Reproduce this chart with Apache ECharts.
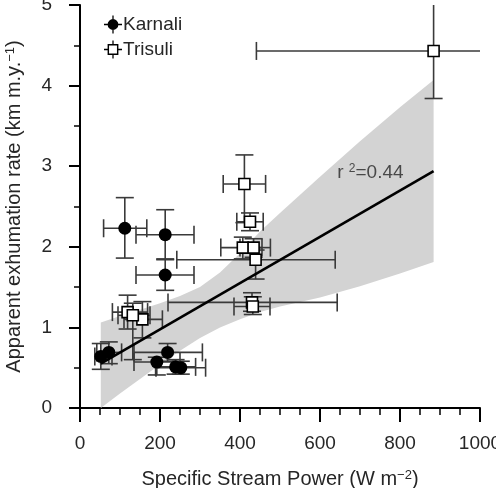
<!DOCTYPE html>
<html><head><meta charset="utf-8">
<script src="https://cdn.jsdelivr.net/npm/echarts@6/dist/echarts.min.js"></script>
<style>html,body{margin:0;padding:0;background:#fff}#c{width:496px;height:488px}</style>
</head><body><div id="c"></div>
<script>
// ---- Data ----
const karnaliX   = [112, 213, 213, 52, 72, 219, 192, 239, 252];
const karnaliY   = [2.23, 2.15, 1.65, 0.64, 0.69, 0.69, 0.57, 0.51, 0.50];
const karnaliXLo = [59, 140, 140, 37, 42, 135, 135, 189, 190];
const karnaliXHi = [167, 285, 285, 80, 104, 306, 250, 289, 314];
const karnaliYLo = [1.86, 1.84, 1.46, 0.48, 0.55, 0.58, 0.41, 0.42, 0.42];
const karnaliYHi = [2.61, 2.46, 1.85, 0.80, 0.82, 0.80, 0.63, 0.60, 0.58];

const trisuliX   = [884, 411, 425, 407, 434, 439, 430, 432, 119, 156, 132];
const trisuliY   = [4.43, 2.78, 2.31, 1.99, 1.99, 1.84, 1.31, 1.26, 1.19, 1.10, 1.15];
const trisuliXLo = [441, 358, 392, 352, 400, 242, 220, 385, 81, 110, 95];
const trisuliXHi = [1000, 464, 458, 455, 476, 638, 643, 475, 169, 206, 175];
const trisuliYLo = [3.84, 2.30, 2.20, 1.85, 1.87, 1.60, 1.20, 1.16, 0.98, 0.87, 0.60];
const trisuliYHi = [5.00, 3.14, 2.42, 2.12, 2.10, 1.96, 1.43, 1.38, 1.40, 1.32, 1.30];

const regX = [52, 884];
const regY = [0.55, 2.94];

const bandX     = [52, 100, 150, 200, 250, 300, 350, 400, 450, 500, 600, 700, 800, 884];
const bandUpper = [1.06, 1.14, 1.22, 1.30, 1.39, 1.50, 1.68, 1.92, 2.19, 2.42, 2.87, 3.31, 3.73, 4.07];
const bandLower = [0.00, 0.18, 0.36, 0.54, 0.71, 0.87, 1.00, 1.10, 1.19, 1.26, 1.37, 1.51, 1.67, 1.81];

const xMin = 0, xMax = 1000, xStep = 200;
const yMin = 0, yMax = 5, yStep = 1;

const annX = 643, annY = 2.92;
const annText = '{r|r }{s|2}{n|=0.44}';

const seriesNames = ['Karnali', 'Trisuli'];
const xTitle = 'Specific Stream Power (W m{sup|\u22122})';
const yTitle = 'Apparent exhumation rate (km m.y.{sup|\u22121})';

// ---- Chart ----
const FONT = '"Liberation Sans", Arial, Helvetica, sans-serif';
const ERR_COLOR = '#3a3a3a';
const TXT = '#262626';

function zip(a, b, c, d, e, f) { return a.map((v, i) => [v, b[i], c[i], d[i], e[i], f[i]]); }

function errorBars(params, api) {
  const x = api.value(0), y = api.value(1);
  const xlo = api.value(2), xhi = api.value(3), ylo = api.value(4), yhi = api.value(5);
  const pL = api.coord([xlo, y]), pR = api.coord([xhi, y]);
  const pB = api.coord([x, ylo]), pT = api.coord([x, yhi]);
  const cap = 9;
  const st = () => ({ stroke: ERR_COLOR, lineWidth: 1.6 });
  const ch = [
    { type: 'line', shape: { x1: pL[0], y1: pL[1], x2: pR[0], y2: pR[1] }, style: st() },
    { type: 'line', shape: { x1: pB[0], y1: pB[1], x2: pT[0], y2: pT[1] }, style: st() }
  ];
  if (xlo > xMin) ch.push({ type: 'line', shape: { x1: pL[0], y1: pL[1] - cap, x2: pL[0], y2: pL[1] + cap }, style: st() });
  if (xhi < xMax) ch.push({ type: 'line', shape: { x1: pR[0], y1: pR[1] - cap, x2: pR[0], y2: pR[1] + cap }, style: st() });
  if (ylo > yMin) ch.push({ type: 'line', shape: { x1: pB[0] - cap, y1: pB[1], x2: pB[0] + cap, y2: pB[1] }, style: st() });
  if (yhi < yMax) ch.push({ type: 'line', shape: { x1: pT[0] - cap, y1: pT[1], x2: pT[0] + cap, y2: pT[1] }, style: st() });
  return { type: 'group', children: ch };
}

function bandRender(params, api) {
  const pts = [];
  for (let i = 0; i < bandX.length; i++) pts.push(api.coord([bandX[i], bandUpper[i]]));
  for (let i = bandX.length - 1; i >= 0; i--) pts.push(api.coord([bandX[i], bandLower[i]]));
  return { type: 'polygon', shape: { points: pts }, style: { fill: '#d3d3d3' } };
}

const karnaliIcon = 'path://M10 4A6 6 0 1 1 10 16A6 6 0 1 1 10 4Z M0 9.3L20 9.3L20 10.7L0 10.7Z M9.3 0L10.7 0L10.7 20L9.3 20Z';
const trisuliIcon = 'path://M4 4L16 4L16 16L4 16Z M5.6 5.6L5.6 14.4L14.4 14.4L14.4 5.6Z M0 9.3L4 9.3L4 10.7L0 10.7Z M16 9.3L20 9.3L20 10.7L16 10.7Z M9.3 0L10.7 0L10.7 4L9.3 4Z M9.3 16L10.7 16L10.7 20L9.3 20Z';

const chart = echarts.init(document.getElementById('c'), null, { renderer: 'canvas' });
chart.setOption({
  animation: false,
  backgroundColor: '#fff',
  textStyle: { fontFamily: FONT },
  grid: { left: 80, right: 16, top: 5, bottom: 80, containLabel: false, outerBoundsMode: 'none' },
  legend: {
    left: 99, top: 10, orient: 'vertical', itemWidth: 18, itemHeight: 18, itemGap: 6,
    textStyle: { fontSize: 19, color: TXT, fontFamily: FONT, padding: [0, 0, 0, -4] },
    data: [
      { name: seriesNames[0], icon: karnaliIcon, itemStyle: { color: '#000', borderWidth: 0 } },
      { name: seriesNames[1], icon: trisuliIcon, itemStyle: { color: '#000', borderWidth: 0 } }
    ]
  },
  xAxis: {
    type: 'value', min: xMin, max: xMax, interval: xStep,
    name: xTitle, nameLocation: 'middle', nameGap: 61,
    nameTextStyle: { fontSize: 20, color: TXT, fontFamily: FONT,
      rich: { sup: { fontSize: 13, verticalAlign: 'top', color: TXT, fontFamily: FONT } } },
    axisLine: { show: true, lineStyle: { color: '#000', width: 2 } },
    axisTick: { show: true, inside: false, length: 14, lineStyle: { color: '#000', width: 2 } },
    minorTick: { show: true, splitNumber: 4, length: 7, lineStyle: { color: '#000', width: 1.5 } },
    axisLabel: { fontSize: 19, color: TXT, margin: 26, fontFamily: FONT, formatter: v => String(v), hideOverlap: false },
    splitLine: { show: false }
  },
  yAxis: {
    type: 'value', min: yMin, max: yMax, interval: yStep,
    name: yTitle, nameLocation: 'middle', nameGap: 56, nameRotate: 90,
    nameTextStyle: { fontSize: 20, color: TXT, fontFamily: FONT,
      rich: { sup: { fontSize: 13, verticalAlign: 'top', color: TXT, fontFamily: FONT } } },
    axisLine: { show: true, lineStyle: { color: '#000', width: 2 } },
    axisTick: { show: true, inside: false, length: 11, lineStyle: { color: '#000', width: 2 } },
    minorTick: { show: true, splitNumber: 2, length: 6, lineStyle: { color: '#000', width: 1.5 } },
    axisLabel: { fontSize: 19, color: TXT, margin: 28, fontFamily: FONT },
    splitLine: { show: false }
  },
  series: [
    { type: 'custom', name: 'band', renderItem: bandRender, data: [[bandX[0], bandLower[0]]], z: 1, silent: true },
    { type: 'line', name: 'fit', data: regX.map((x, i) => [x, regY[i]]), symbol: 'none',
      lineStyle: { color: '#000', width: 2.6 }, z: 4, silent: true },
    { type: 'custom', name: 'errK', renderItem: errorBars, z: 3, silent: true,
      encode: { x: [0, 2, 3], y: [1, 4, 5] },
      data: zip(karnaliX, karnaliY, karnaliXLo, karnaliXHi, karnaliYLo, karnaliYHi) },
    { type: 'custom', name: 'errT', renderItem: errorBars, z: 3, silent: true,
      encode: { x: [0, 2, 3], y: [1, 4, 5] },
      data: zip(trisuliX, trisuliY, trisuliXLo, trisuliXHi, trisuliYLo, trisuliYHi) },
    { type: 'scatter', name: seriesNames[0], symbol: 'circle', symbolSize: 13, z: 5,
      itemStyle: { color: '#000', opacity: 1 },
      data: karnaliX.map((x, i) => [x, karnaliY[i]]) },
    { type: 'scatter', name: seriesNames[1], symbol: 'rect', symbolSize: 11, z: 6,
      itemStyle: { color: '#fff', borderColor: '#000', borderWidth: 1.6, opacity: 1 },
      data: trisuliX.map((x, i) => [x, trisuliY[i]]) },
    { type: 'scatter', name: 'annotation', symbolSize: 0, z: 7, silent: true,
      data: [[annX, annY]],
      label: { show: true, position: 'right', distance: 0, formatter: annText,
        rich: {
          r: { fontSize: 19, color: TXT, fontFamily: FONT },
          s: { fontSize: 12, color: TXT, fontFamily: FONT, verticalAlign: 'top' },
          n: { fontSize: 19, color: TXT, fontFamily: FONT }
        } } }
  ]
});
</script>
</body></html>
